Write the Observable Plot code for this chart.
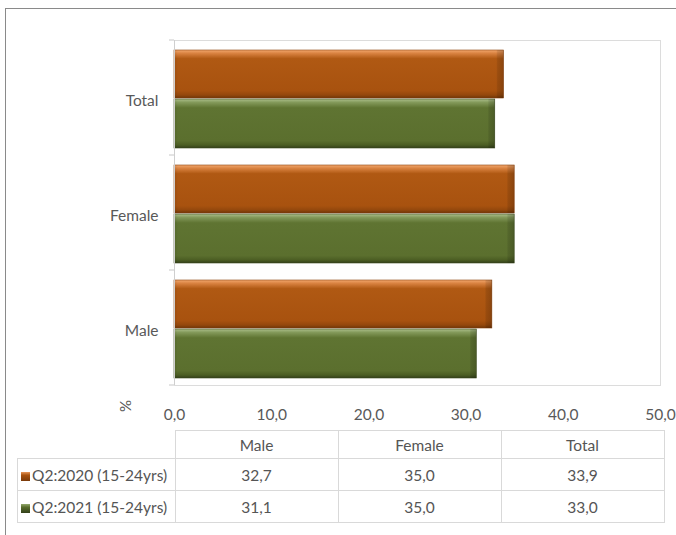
<!DOCTYPE html>
<html><head><meta charset="utf-8">
<script src="https://cdn.jsdelivr.net/npm/d3@7"></script>
<script src="https://cdn.jsdelivr.net/npm/@observablehq/plot@0.6"></script>
<style>
body{margin:0;background:#fff;font-family:Lato,"Open Sans",sans-serif;}
#wrap{position:relative;width:676px;height:535px;overflow:hidden;}
#border{position:absolute;left:5px;top:8px;width:700px;height:600px;border:1px solid #8a8a8a;box-sizing:border-box;}
#chart{position:absolute;left:0;top:0;}
table{position:absolute;border-collapse:collapse;font-size:15.5px;color:#555;}
td{border:1px solid #d9d9d9;text-align:center;padding:0;}
td.lab{text-align:left;padding-left:3px;white-space:nowrap;}
td.blank{border:none;}
.sw{display:inline-block;width:9px;height:9px;margin-right:2px;vertical-align:0px;}
</style></head>
<body><div id="wrap"><div id="border"></div><div id="chart"></div><table id="tbl"></table></div>
<script>
const categories = ["Total", "Female", "Male"];
const tableCategories = ["Male", "Female", "Total"];
const seriesNames = ["Q2:2020 (15-24yrs)", "Q2:2021 (15-24yrs)"];
const values2020 = {Male: 32.7, Female: 35.0, Total: 33.9};
const values2021 = {Male: 31.1, Female: 35.0, Total: 33.0};
const xTicks = [0, 10, 20, 30, 40, 50];

const fmt = d => d.toFixed(1).replace(".", ",");
const d2020 = categories.map(c => ({cat: c, v: values2020[c]}));
const d2021 = categories.map(c => ({cat: c, v: values2021[c]}));

const plot = Plot.plot({
  width: 676, height: 430,
  marginLeft: 174, marginRight: 16, marginTop: 40, marginBottom: 45,
  style: {fontFamily: "Lato, sans-serif", fontSize: "15.5px", color: "#595959", background: "transparent"},
  x: {domain: [0, 50], ticks: xTicks, tickFormat: fmt, tickSize: 0, tickPadding: 23, label: null},
  y: {domain: categories, padding: 0, tickSize: 0, tickPadding: 16, label: null},
  marks: [
    Plot.frame({stroke: "#dcdcdc"}),
    Plot.barX(d2020, {x: "v", y: "cat", fill: "url(#gOr)", stroke: "#8a420c", strokeWidth: 0.6, insetTop: 10, insetBottom: 57}),
    Plot.barX(d2020, {x: "v", y: "cat", fill: "url(#gSide)", insetTop: 10, insetBottom: 57}),
    Plot.barX(d2021, {x: "v", y: "cat", fill: "url(#gGr)", stroke: "#3d4c1e", strokeWidth: 0.6, insetTop: 59, insetBottom: 7}),
    Plot.barX(d2021, {x: "v", y: "cat", fill: "url(#gSide)", insetTop: 59, insetBottom: 7}),
    Plot.ruleX([0], {stroke: "#cfcfcf"})
  ]
});
document.getElementById("chart").appendChild(plot);

const svg = d3.select(plot);
svg.selectAll("g[aria-label='y-axis tick label'] text, g[aria-label='y-axis'] text").attr("dy", "0.2em");
const defs = svg.insert("defs", ":first-child");
function grad(id, stops, horiz) {
  const g = defs.append("linearGradient").attr("id", id).attr("x1", 0).attr("y1", 0)
    .attr("x2", horiz ? 1 : 0).attr("y2", horiz ? 0 : 1);
  stops.forEach(([o, c, op]) => g.append("stop").attr("offset", o).attr("stop-color", c).attr("stop-opacity", op == null ? 1 : op));
}
grad("gOr", [[0, "#f2a86e"], [0.07, "#d98240"], [0.18, "#b05913"], [0.85, "#a8520f"], [0.94, "#93470c"], [1, "#6e3508"]]);
grad("gGr", [[0, "#adc08c"], [0.07, "#83995a"], [0.18, "#5f7432"], [0.85, "#5b6f2e"], [0.94, "#4b5d23"], [1, "#33401a"]]);
grad("gSide", [[0, "#000", 0.1], [0.012, "#000", 0], [0.978, "#000", 0], [0.982, "#000", 0.1], [1, "#000", 0.2]], true);

// boundary tick marks on the category axis
const ys = plot.scale("y");
const bounds = categories.map(c => ys.apply(c)).concat([ys.apply(categories[categories.length - 1]) + ys.bandwidth]);
bounds.forEach(b => svg.append("line").attr("x1", 169).attr("x2", 174).attr("y1", b).attr("y2", b).attr("stroke", "#c8c8c8"));
// % label
svg.append("text").attr("transform", "translate(131,406) rotate(-90)").attr("text-anchor", "middle")
  .attr("font-size", 15).attr("fill", "#595959").attr("font-family", "Lato, sans-serif").text("%");

// data table
const xs = plot.scale("x");
const x0 = xs.apply(0), x1 = xs.apply(50);
const colW = (x1 - x0) / tableCategories.length;
const tbl = document.getElementById("tbl");
tbl.style.left = "17px"; tbl.style.top = "430px";
const swatch = ["linear-gradient(#e8975a,#a8520f 35%,#7a3a0a)", "linear-gradient(#94a96e,#5a6e2d 35%,#33401a)"];
let html = `<tr style="height:28px"><td class="blank" style="width:${x0 - 17}px"></td>` +
  tableCategories.map(c => `<td style="width:${colW}px">${c}</td>`).join("") + "</tr>";
[values2020, values2021].forEach((vals, i) => {
  html += `<tr style="height:32px"><td class="lab"><span class="sw" style="background:${swatch[i]}"></span>${seriesNames[i]}</td>` +
    tableCategories.map(c => `<td>${fmt(vals[c])}</td>`).join("") + "</tr>";
});
tbl.innerHTML = html;
</script></body></html>
